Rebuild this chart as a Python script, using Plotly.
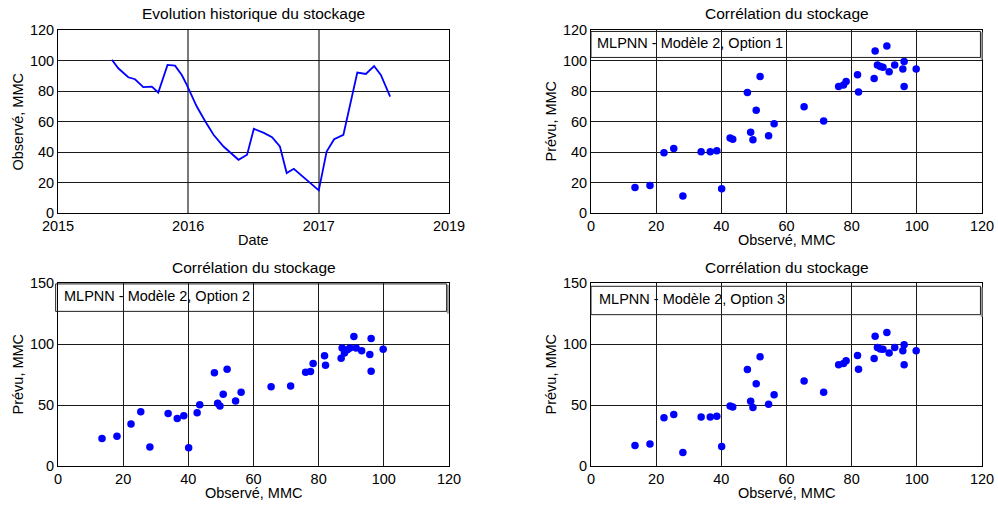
import plotly.graph_objects as go

# ---- Historical storage series (MMC) ----
dates = [
    "2015-06-01", "2015-06-19", "2015-07-17", "2015-08-05", "2015-08-28",
    "2015-09-21", "2015-10-09", "2015-11-04", "2015-11-25", "2015-12-14",
    "2015-12-28", "2016-01-25", "2016-02-18", "2016-03-12", "2016-04-09",
    "2016-05-21", "2016-06-14", "2016-07-03", "2016-07-31", "2016-08-23",
    "2016-09-14", "2016-10-03", "2016-10-23", "2016-11-21", "2017-01-01",
    "2017-01-23", "2017-02-13", "2017-03-11", "2017-03-31", "2017-04-19",
    "2017-05-13", "2017-06-05", "2017-06-24", "2017-07-20",
]
storage = [
    100.5, 94.9, 89.0, 87.7, 82.5,
    82.9, 79.0, 97.1, 96.6, 90.5,
    84.0, 69.8, 60.0, 51.3, 43.6,
    34.9, 38.2, 55.2, 52.5, 49.7,
    43.6, 26.2, 29.0, 22.9, 14.8,
    40.3, 48.4, 51.3, 72.0, 92.1,
    91.2, 96.4, 90.5, 76.3,
]
year_ticks = ["2015-01-01", "2016-01-01", "2017-01-01", "2018-01-01"]
year_labels = ["2015", "2016", "2017", "2019"]

# ---- Observed vs predicted storage (MMC) ----
observed = [
    13.5, 18.1, 22.4, 25.4, 28.2, 33.8, 36.6, 38.6, 40.1, 42.7,
    43.5, 48.0, 49.0, 49.7, 50.7, 51.9, 54.5, 56.2, 65.4, 71.4,
    76.0, 77.5, 78.3, 81.8, 82.1, 86.9, 87.2, 87.9, 88.8, 89.6,
    90.8, 91.5, 93.2, 95.7, 96.1, 96.1, 99.8,
]
pred_option1 = [
    16.8, 18.1, 39.5, 42.3, 11.1, 40.1, 40.1, 40.8, 15.9, 49.1,
    48.4, 79.0, 53.0, 48.0, 67.4, 89.5, 50.6, 58.5, 69.6, 60.4,
    82.9, 84.0, 86.2, 90.6, 79.4, 88.2, 106.3, 97.1, 96.0, 95.6,
    109.5, 92.7, 97.1, 94.5, 99.3, 82.9, 94.5,
]
pred_option2 = [
    22.6, 24.3, 34.4, 44.5, 15.5, 43.1, 39.0, 41.2, 15.0, 43.6,
    50.2, 76.4, 51.5, 49.1, 58.9, 79.4, 53.2, 60.5, 64.9, 65.5,
    76.9, 77.5, 84.0, 90.3, 82.6, 88.4, 96.8, 92.7, 95.2, 96.8,
    106.1, 96.8, 94.4, 91.4, 104.5, 77.7, 95.7,
]
pred_option3 = [
    16.8, 18.1, 39.5, 42.3, 11.1, 40.1, 40.1, 40.8, 15.9, 49.1,
    48.4, 79.0, 53.0, 48.0, 67.4, 89.5, 50.6, 58.5, 69.6, 60.4,
    82.9, 84.0, 86.2, 90.6, 79.4, 88.2, 106.3, 97.1, 96.0, 95.6,
    109.5, 92.7, 97.1, 94.5, 99.3, 82.9, 94.5,
]
panel_labels = ["MLPNN - Modèle 2, Option 1",
                "MLPNN - Modèle 2, Option 2",
                "MLPNN - Modèle 2, Option 3"]

W, H = 998, 506
FONT = "Liberation Sans, Arial, sans-serif"
FS = 14.5
FS_TITLE = 15.5
BLUE = "#0000ff"


def px(x):
    return x / W


def py(y):
    return 1 - y / H


# plot areas in pixels: (left, right, top, bottom)
areas = {
    1: (58, 449, 30, 213),
    2: (591, 982, 30, 213),
    3: (58, 449, 283, 466),
    4: (591, 982, 283, 466),
}

fig = go.Figure()

fig.add_trace(go.Scatter(x=dates, y=storage, mode="lines",
                         line=dict(color=BLUE, width=1.8),
                         xaxis="x", yaxis="y", showlegend=False))
for idx, pred in zip((2, 3, 4), (pred_option1, pred_option2, pred_option3)):
    fig.add_trace(go.Scatter(x=observed, y=pred, mode="markers",
                             marker=dict(color=BLUE, size=7.5),
                             xaxis=f"x{idx}", yaxis=f"y{idx}", showlegend=False))

axis_common = dict(showline=True, linecolor="black", linewidth=1, mirror=True,
                   ticks="", zeroline=False, showgrid=True, automargin=False,
                   gridcolor="#1a1a1a", gridwidth=1,
                   tickfont=dict(family=FONT, size=FS, color="black"))

layout = dict(width=W, height=H, margin=dict(l=0, r=0, t=0, b=0),
              template="none",
              paper_bgcolor="white", plot_bgcolor="white",
              font=dict(family=FONT, size=FS, color="black"))

for idx, (l, r, t, b) in areas.items():
    xs = "xaxis" if idx == 1 else f"xaxis{idx}"
    ys = "yaxis" if idx == 1 else f"yaxis{idx}"
    xa = dict(axis_common, domain=[px(l), px(r)],
              anchor="y" if idx == 1 else f"y{idx}")
    ya = dict(axis_common, domain=[py(b), py(t)],
              anchor="x" if idx == 1 else f"x{idx}")
    if idx == 1:
        xa.update(type="date", range=[year_ticks[0], year_ticks[-1]],
                  tickvals=year_ticks, ticktext=year_labels,
                  gridcolor="#7a7a7a", gridwidth=2)
        ya.update(range=[0, 120], dtick=20)
    else:
        xa.update(range=[0, 120], dtick=20)
        ya.update(range=[0, 120] if idx == 2 else [0, 150],
                  dtick=20 if idx == 2 else 50)
    layout[xs] = xa
    layout[ys] = ya

fig.update_layout(**layout)

annotations = []
titles = ["Evolution historique du stockage", "Corrélation du stockage",
          "Corrélation du stockage", "Corrélation du stockage"]
xtitles = ["Date", "Observé, MMC", "Observé, MMC", "Observé, MMC"]
ytitles = ["Observé, MMC", "Prévu, MMC", "Prévu, MMC", "Prévu, MMC"]
for idx, (l, r, t, b) in areas.items():
    cx = (l + r) / 2
    annotations.append(dict(text=titles[idx - 1], x=px(cx), y=py(t - 16),
                            xref="paper", yref="paper", showarrow=False,
                            xanchor="center", yanchor="middle",
                            font=dict(family=FONT, size=FS_TITLE)))
    annotations.append(dict(text=xtitles[idx - 1], x=px(cx), y=py(b + 27),
                            xref="paper", yref="paper", showarrow=False,
                            xanchor="center", yanchor="middle",
                            font=dict(family=FONT, size=FS)))
    annotations.append(dict(text=ytitles[idx - 1], x=px(l - 41),
                            y=py((t + b) / 2), xref="paper", yref="paper",
                            showarrow=False, textangle=-90,
                            xanchor="center", yanchor="middle",
                            font=dict(family=FONT, size=FS)))

# model label boxes (axis-domain coordinates)
boxes = [
    # axis index, x0, x1, y0, y1, text x, text y
    (2, 0.0, 0.996, 0.850, 0.992, 0.009, 0.927),
    (3, -0.006, 0.994, 0.845, 0.995, 0.010, 0.931),
    (4, 0.0, 0.996, 0.827, 0.982, 0.015, 0.913),
]
shapes = []
for (idx, x0, x1, y0, y1, tx, ty), label in zip(boxes, panel_labels):
    xr, yr = f"x{idx} domain", f"y{idx} domain"
    shapes.append(dict(type="line", xref=xr, yref=yr,
                       x0=x1 + 0.003, x1=x1 + 0.003, y0=y1 - 0.005, y1=y0 - 0.012,
                       line=dict(color="#9a9a9a", width=2)))
    shapes.append(dict(type="rect", xref=xr, yref=yr,
                       x0=x0, x1=x1, y0=y0, y1=y1,
                       line=dict(color="#202020", width=1)))
    annotations.append(dict(text=label, xref=xr, yref=yr, x=tx, y=ty,
                            xanchor="left", yanchor="middle", showarrow=False,
                            font=dict(family=FONT, size=FS, color="black")))

fig.update_layout(annotations=annotations, shapes=shapes)

fig.write_html("out.html")
